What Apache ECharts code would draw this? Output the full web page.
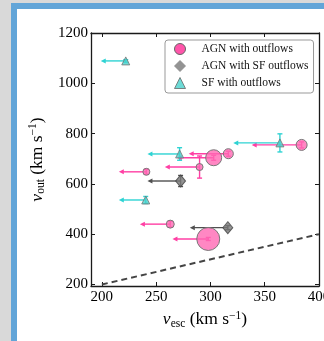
<!DOCTYPE html>
<html>
<head>
<meta charset="utf-8">
<script src="https://cdn.jsdelivr.net/npm/echarts@6/dist/echarts.min.js"></script>
<style>
  html, body { margin: 0; padding: 0; width: 324px; height: 341px; overflow: hidden; background: #d9d9d9; }
  #frame { position: absolute; left: 11px; top: 3px; width: 320px; height: 345px;
           border-left: 6px solid #62a5d8; border-top: 6px solid #62a5d8; background: #ffffff; }
  #chart { position: absolute; left: 0; top: 0; width: 324px; height: 341px; }
</style>
</head>
<body>
<div id="frame"></div>
<div id="chart"></div>
<script>
// Axis ticks
const xTicks = [200, 250, 300, 350, 400];
const yTicks = [200, 400, 600, 800, 1000, 1200];

// AGN with outflows: v_esc, v_out, lower v_esc limit (arrow end), v_out error, marker size
const agnX    = [384, 316.5, 303, 290, 241, 263, 298];
const agnY    = [755, 720, 704, 667, 648, 440, 381];
const agnXLow = [338, 280, 269, 258, 215.6, 235, 265];
const agnYErr = [12, 10, 10, 44, 10, 12, 6];
const agnSize = [11, 10, 16, 7, 7, 8, 23];

// AGN with SF outflows
const compX    = [272.5, 316];
const compY    = [611.5, 426];
const compXLow = [242, 281];
const compYErr = [22, 8];

// SF with outflows
const sfX    = [222, 271.6, 240.4, 364];
const sfY    = [1089, 719, 536, 763];
const sfXLow = [199, 242, 215.6, 321];
const sfYErr = [5, 25, 14, 36];

// One-to-one line v_out = v_esc
const oneToOne = [[200, 200], [400, 400]];

const FONT = '"Liberation Serif", "DejaVu Serif", serif';

function zip(xs, ys, extra1, extra2) {
  return xs.map((x, i) => [x, ys[i], extra1 ? extra1[i] : undefined, extra2 ? extra2[i] : undefined]);
}

// Leftward arrow (upper limit on v_esc) plus vertical error bar with caps
function limitSeries(name, data, color, lineWidth) {
  return {
    type: 'custom',
    name: name + ' limits',
    z: 2,
    silent: true,
    data: data,
    renderItem: function (params, api) {
      const x = api.value(0), y = api.value(1), xl = api.value(2), ye = api.value(3);
      const p = api.coord([x, y]);
      const pl = api.coord([xl, y]);
      const pt = api.coord([x, y + ye]);
      const pb = api.coord([x, y - ye]);
      const st = { stroke: color, lineWidth: lineWidth };
      const children = [
        { type: 'line', shape: { x1: p[0], y1: p[1], x2: pl[0] + 3, y2: pl[1] }, style: st },
        { type: 'polygon', shape: { points: [[pl[0], pl[1]], [pl[0] + 5, pl[1] - 2.5], [pl[0] + 5, pl[1] + 2.5]] },
          style: { fill: color } },
        { type: 'line', shape: { x1: pt[0], y1: pt[1], x2: pb[0], y2: pb[1] }, style: st },
        { type: 'line', shape: { x1: pt[0] - 2.5, y1: pt[1], x2: pt[0] + 2.5, y2: pt[1] }, style: st },
        { type: 'line', shape: { x1: pb[0] - 2.5, y1: pb[1], x2: pb[0] + 2.5, y2: pb[1] }, style: st }
      ];
      return { type: 'group', children: children };
    }
  };
}

const pink = 'rgba(255,105,180,0.8)';
const cyan = '#48d1cc';
const gray = '#787878';

const axisLineStyle = { color: '#1a1a1a', width: 1.3 };
const labelStyle = { color: '#000', fontFamily: FONT, fontSize: 15, formatter: v => String(v) };

const nameRich = {
  i: { fontFamily: FONT, fontSize: 17.5, fontStyle: 'italic' },
  s: { fontFamily: FONT, fontSize: 11.5, padding: [8, 0, 0, 0] },
  p: { fontFamily: FONT, fontSize: 11.5, padding: [0, 0, 8, 0] }
};

const chart = echarts.init(document.getElementById('chart'), null, { renderer: 'canvas' });
chart.setOption({
  animation: false,
  backgroundColor: 'transparent',
  grid: { left: 91, right: 5, top: 33, bottom: 55, containLabel: false, outerBoundsMode: 'none' },
  legend: {
    orient: 'vertical',
    left: 165, top: 40,
    backgroundColor: '#fff',
    borderColor: '#999', borderWidth: 1, borderRadius: 3,
    padding: [3, 5, 4, 9],
    itemWidth: 11, itemHeight: 11, itemGap: 5,
    textStyle: { fontFamily: FONT, fontSize: 11.5, color: '#111', padding: [0, 0, 0, 11] },
    data: [
      { name: 'AGN with outflows', icon: 'circle', itemStyle: { color: '#ff55aa', borderColor: '#666', borderWidth: 1 } },
      { name: 'AGN with SF outflows', icon: 'diamond', itemStyle: { color: gray, borderColor: '#888', borderWidth: 1 } },
      { name: 'SF with outflows', icon: 'triangle', itemStyle: { color: cyan, borderColor: '#666', borderWidth: 1 } }
    ]
  },
  xAxis: [{
    type: 'value', min: 190, max: 400,
    name: '{i|v}{s|esc} (km s{p|−1})',
    nameLocation: 'middle', nameGap: 20,
    nameTextStyle: { fontFamily: FONT, fontSize: 17.5, color: '#000', rich: nameRich },
    axisLine: { show: true, onZero: false, lineStyle: axisLineStyle },
    axisTick: { show: true, inside: true, length: 4, customValues: xTicks, lineStyle: { color: '#1a1a1a' } },
    axisLabel: Object.assign({ customValues: xTicks, margin: 4 }, labelStyle),
    splitLine: { show: false }
  }, {
    type: 'value', min: 190, max: 400, position: 'top',
    axisLine: { show: true, onZero: false, lineStyle: axisLineStyle },
    axisTick: { show: true, inside: true, length: 4, customValues: xTicks, lineStyle: { color: '#1a1a1a' } },
    axisLabel: { show: false },
    splitLine: { show: false }
  }],
  yAxis: [{
    type: 'value', min: 194, max: 1200,
    name: '{i|v}{s|out} (km s{p|−1})',
    nameLocation: 'middle', nameGap: 36, nameRotate: 90,
    nameTextStyle: { fontFamily: FONT, fontSize: 17.5, color: '#000', rich: nameRich },
    axisLine: { show: true, onZero: false, lineStyle: axisLineStyle },
    axisTick: { show: true, inside: true, length: 4, customValues: yTicks, lineStyle: { color: '#1a1a1a' } },
    axisLabel: Object.assign({ customValues: yTicks, margin: 3 }, labelStyle),
    splitLine: { show: false }
  }, {
    type: 'value', min: 194, max: 1200, position: 'right',
    axisLine: { show: true, onZero: false, lineStyle: axisLineStyle },
    axisTick: { show: true, inside: true, length: 4, customValues: yTicks, lineStyle: { color: '#1a1a1a' } },
    axisLabel: { show: false },
    splitLine: { show: false }
  }],
  series: [
    {
      type: 'line', name: 'one-to-one', data: oneToOne, symbol: 'none', silent: true, z: 1,
      lineStyle: { color: '#444', width: 2, type: [6, 4] }
    },
    limitSeries('AGN with outflows', zip(agnX, agnY, agnXLow, agnYErr), '#ff3fa4', 1.4),
    limitSeries('AGN with SF outflows', zip(compX, compY, compXLow, compYErr), '#505050', 1.4),
    limitSeries('SF with outflows', zip(sfX, sfY, sfXLow, sfYErr), '#2ed3d3', 1.4),
    {
      type: 'scatter', name: 'AGN with outflows', z: 3,
      data: agnX.map((x, i) => [x, agnY[i], agnSize[i]]),
      symbol: 'circle',
      symbolSize: v => v[2],
      itemStyle: { color: pink, borderColor: '#777', borderWidth: 1, opacity: 1 }
    },
    {
      type: 'scatter', name: 'AGN with SF outflows', z: 3,
      data: zip(compX, compY).map(d => [d[0], d[1]]),
      symbol: 'diamond', symbolSize: [10, 12],
      itemStyle: { color: gray, borderColor: '#444', borderWidth: 1 }
    },
    {
      type: 'scatter', name: 'SF with outflows', z: 3,
      data: zip(sfX, sfY).map(d => [d[0], d[1]]),
      symbol: 'triangle', symbolSize: 8,
      itemStyle: { color: cyan, borderColor: '#777', borderWidth: 1 }
    }
  ]
});
</script>
</body>
</html>
